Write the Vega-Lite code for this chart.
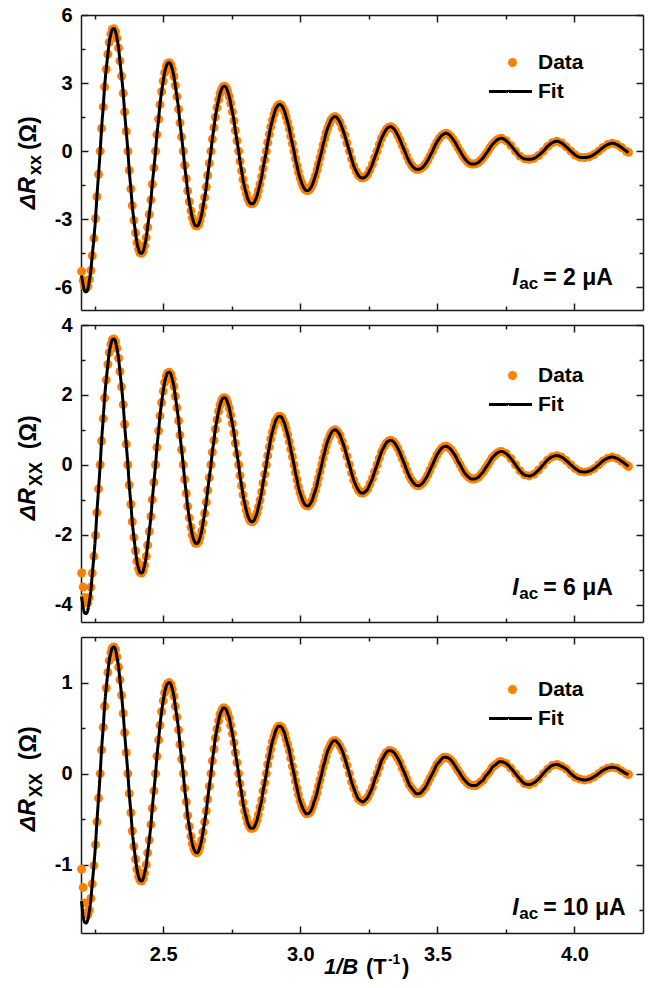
{
"$schema": "https://vega.github.io/schema/vega-lite/v6.json",
"padding": {"left": 17, "top": 5, "right": 8, "bottom": 5},
"bounds": "flush",
"spacing": 15,
"background": "white",
"config": {
 "view": {"stroke": null},
 "font": "Liberation Sans",
 "axis": {"labelFont": "Liberation Sans", "labelFontSize": 20, "labelFontWeight": "bold", "labelColor": "#000", "labelPadding": 16, "domainColor": "#1a1a1a", "domainWidth": 1.5, "tickColor": "#1a1a1a", "tickWidth": 1.5, "tickSize": -7, "grid": false, "labelFlush": false, "labelOverlap": false, "title": null},
 "axisBottom": {"labelPadding": 18},
 "legend": {"orient": "none", "padding": 0, "labelFont": "Liberation Sans", "labelFontSize": 21, "labelFontWeight": "bold", "labelColor": "#000"},
 "text": {"font": "Liberation Sans", "color": "#000"}
},
"resolve": {"scale": {"x": "independent", "y": "independent", "color": "independent", "strokeDash": "independent"}},
"datasets": {
"p1": [
{"x":2.202,"d":-5.3,"f":-5.48},{"x":2.208,"d":-5.7,"f":-5.9},{"x":2.213,"d":-5.95,"f":-6.16},
{"x":2.219,"d":-6.05,"f":-6.2},{"x":2.225,"d":-5.95,"f":-6.06},{"x":2.23,"d":-5.65,"f":-5.74},{"x":2.236,"d":-5.25,"f":-5.25},{"x":2.241,"d":-4.61,"f":-4.61},{"x":2.247,"d":-3.84,"f":-3.84},{"x":2.253,"d":-2.97,"f":-2.97},{"x":2.258,"d":-2.01,"f":-2.01},{"x":2.264,"d":-1.02,"f":-1.02},{"x":2.27,"d":0,"f":0},{"x":2.275,"d":1,"f":1},{"x":2.281,"d":1.95,"f":1.95},{"x":2.286,"d":2.83,"f":2.83},{"x":2.292,"d":3.61,"f":3.61},{"x":2.298,"d":4.27,"f":4.27},{"x":2.303,"d":4.79,"f":4.79},{"x":2.309,"d":5.16,"f":5.16},{"x":2.314,"d":5.36,"f":5.36},
{"x":2.32,"d":5.4,"f":5.4},{"x":2.326,"d":5.27,"f":5.27},{"x":2.331,"d":4.98,"f":4.98},{"x":2.337,"d":4.55,"f":4.55},{"x":2.342,"d":3.98,"f":3.98},{"x":2.348,"d":3.31,"f":3.31},{"x":2.354,"d":2.55,"f":2.55},{"x":2.359,"d":1.73,"f":1.73},{"x":2.365,"d":0.87,"f":0.87},{"x":2.371,"d":0,"f":0},{"x":2.376,"d":-0.85,"f":-0.85},{"x":2.382,"d":-1.66,"f":-1.66},{"x":2.387,"d":-2.4,"f":-2.4},{"x":2.393,"d":-3.05,"f":-3.05},{"x":2.399,"d":-3.6,"f":-3.6},{"x":2.404,"d":-4.03,"f":-4.03},{"x":2.41,"d":-4.32,"f":-4.32},{"x":2.415,"d":-4.48,"f":-4.48},
{"x":2.421,"d":-4.5,"f":-4.5},{"x":2.427,"d":-4.4,"f":-4.4},{"x":2.432,"d":-4.17,"f":-4.17},{"x":2.438,"d":-3.81,"f":-3.81},{"x":2.443,"d":-3.35,"f":-3.35},{"x":2.449,"d":-2.79,"f":-2.79},{"x":2.455,"d":-2.15,"f":-2.15},{"x":2.46,"d":-1.46,"f":-1.46},{"x":2.466,"d":-0.74,"f":-0.74},{"x":2.472,"d":0,"f":0},{"x":2.477,"d":0.73,"f":0.73},{"x":2.483,"d":1.41,"f":1.41},{"x":2.488,"d":2.05,"f":2.05},{"x":2.494,"d":2.62,"f":2.62},{"x":2.5,"d":3.09,"f":3.09},{"x":2.505,"d":3.46,"f":3.46},{"x":2.511,"d":3.73,"f":3.73},{"x":2.516,"d":3.87,"f":3.87},
{"x":2.522,"d":3.9,"f":3.9},{"x":2.528,"d":3.81,"f":3.81},{"x":2.533,"d":3.6,"f":3.6},{"x":2.539,"d":3.29,"f":3.29},{"x":2.544,"d":2.89,"f":2.89},{"x":2.55,"d":2.4,"f":2.4},{"x":2.556,"d":1.85,"f":1.85},{"x":2.561,"d":1.25,"f":1.25},{"x":2.567,"d":0.63,"f":0.63},{"x":2.573,"d":0,"f":0},{"x":2.578,"d":-0.62,"f":-0.62},{"x":2.584,"d":-1.21,"f":-1.21},{"x":2.589,"d":-1.75,"f":-1.75},{"x":2.595,"d":-2.23,"f":-2.23},{"x":2.601,"d":-2.63,"f":-2.63},{"x":2.606,"d":-2.94,"f":-2.94},{"x":2.612,"d":-3.16,"f":-3.16},{"x":2.617,"d":-3.28,"f":-3.28},
{"x":2.623,"d":-3.3,"f":-3.3},{"x":2.629,"d":-3.23,"f":-3.23},{"x":2.634,"d":-3.06,"f":-3.06},{"x":2.64,"d":-2.79,"f":-2.79},{"x":2.645,"d":-2.45,"f":-2.45},{"x":2.651,"d":-2.04,"f":-2.04},{"x":2.657,"d":-1.58,"f":-1.58},{"x":2.662,"d":-1.07,"f":-1.07},{"x":2.668,"d":-0.54,"f":-0.54},{"x":2.674,"d":0,"f":0},{"x":2.679,"d":0.53,"f":0.53},{"x":2.685,"d":1.04,"f":1.04},{"x":2.69,"d":1.5,"f":1.5},{"x":2.696,"d":1.92,"f":1.92},{"x":2.702,"d":2.27,"f":2.27},{"x":2.707,"d":2.54,"f":2.54},{"x":2.713,"d":2.73,"f":2.73},{"x":2.718,"d":2.84,"f":2.84},
{"x":2.724,"d":2.86,"f":2.86},{"x":2.73,"d":2.79,"f":2.79},{"x":2.735,"d":2.63,"f":2.63},{"x":2.741,"d":2.4,"f":2.4},{"x":2.746,"d":2.1,"f":2.1},{"x":2.752,"d":1.74,"f":1.74},{"x":2.758,"d":1.34,"f":1.34},{"x":2.763,"d":0.91,"f":0.91},{"x":2.769,"d":0.46,"f":0.46},{"x":2.775,"d":0,"f":0},{"x":2.78,"d":-0.45,"f":-0.45},{"x":2.786,"d":-0.87,"f":-0.87},{"x":2.791,"d":-1.25,"f":-1.25},{"x":2.797,"d":-1.59,"f":-1.59},{"x":2.803,"d":-1.87,"f":-1.87},{"x":2.808,"d":-2.09,"f":-2.09},{"x":2.814,"d":-2.24,"f":-2.24},{"x":2.819,"d":-2.31,"f":-2.31},
{"x":2.825,"d":-2.32,"f":-2.32},{"x":2.831,"d":-2.27,"f":-2.27},{"x":2.836,"d":-2.15,"f":-2.15},{"x":2.842,"d":-1.97,"f":-1.97},{"x":2.847,"d":-1.73,"f":-1.73},{"x":2.853,"d":-1.45,"f":-1.45},{"x":2.859,"d":-1.12,"f":-1.12},{"x":2.864,"d":-0.76,"f":-0.76},{"x":2.87,"d":-0.38,"f":-0.38},{"x":2.876,"d":0,"f":0},{"x":2.881,"d":0.38,"f":0.38},{"x":2.887,"d":0.74,"f":0.74},{"x":2.892,"d":1.07,"f":1.07},{"x":2.898,"d":1.37,"f":1.37},{"x":2.904,"d":1.62,"f":1.62},{"x":2.909,"d":1.82,"f":1.82},{"x":2.915,"d":1.96,"f":1.96},{"x":2.92,"d":2.04,"f":2.04},
{"x":2.926,"d":2.06,"f":2.06},{"x":2.932,"d":2.01,"f":2.01},{"x":2.937,"d":1.9,"f":1.9},{"x":2.943,"d":1.74,"f":1.74},{"x":2.948,"d":1.52,"f":1.52},{"x":2.954,"d":1.27,"f":1.27},{"x":2.96,"d":0.98,"f":0.98},{"x":2.965,"d":0.66,"f":0.66},{"x":2.971,"d":0.33,"f":0.33},{"x":2.977,"d":0,"f":0},{"x":2.982,"d":-0.33,"f":-0.33},{"x":2.988,"d":-0.64,"f":-0.64},{"x":2.993,"d":-0.92,"f":-0.92},{"x":2.999,"d":-1.18,"f":-1.18},{"x":3.005,"d":-1.39,"f":-1.39},{"x":3.01,"d":-1.55,"f":-1.55},{"x":3.016,"d":-1.67,"f":-1.67},{"x":3.021,"d":-1.73,"f":-1.73},
{"x":3.027,"d":-1.74,"f":-1.74},{"x":3.033,"d":-1.7,"f":-1.7},{"x":3.038,"d":-1.61,"f":-1.61},{"x":3.044,"d":-1.47,"f":-1.47},{"x":3.049,"d":-1.3,"f":-1.3},{"x":3.055,"d":-1.08,"f":-1.08},{"x":3.061,"d":-0.83,"f":-0.83},{"x":3.066,"d":-0.57,"f":-0.57},{"x":3.072,"d":-0.29,"f":-0.29},{"x":3.078,"d":0,"f":0},{"x":3.083,"d":0.28,"f":0.28},{"x":3.089,"d":0.55,"f":0.55},{"x":3.094,"d":0.8,"f":0.8},{"x":3.1,"d":1.02,"f":1.02},{"x":3.106,"d":1.2,"f":1.2},{"x":3.111,"d":1.35,"f":1.35},{"x":3.117,"d":1.45,"f":1.45},{"x":3.122,"d":1.51,"f":1.51},
{"x":3.128,"d":1.52,"f":1.52},
{"x":3.136,"d":1.44,"f":1.44},{"x":3.145,"d":1.27,"f":1.27},{"x":3.153,"d":1.01,"f":1.01},{"x":3.162,"d":0.7,"f":0.7},{"x":3.17,"d":0.36,"f":0.36},{"x":3.179,"d":0,"f":0},{"x":3.187,"d":-0.34,"f":-0.34},{"x":3.195,"d":-0.65,"f":-0.65},{"x":3.204,"d":-0.89,"f":-0.89},{"x":3.212,"d":-1.07,"f":-1.07},{"x":3.221,"d":-1.17,"f":-1.17},
{"x":3.229,"d":-1.18,"f":-1.18},{"x":3.237,"d":-1.13,"f":-1.13},{"x":3.246,"d":-1.01,"f":-1.01},{"x":3.254,"d":-0.82,"f":-0.82},{"x":3.263,"d":-0.57,"f":-0.57},{"x":3.271,"d":-0.29,"f":-0.29},{"x":3.28,"d":0,"f":0},{"x":3.288,"d":0.29,"f":0.29},{"x":3.296,"d":0.56,"f":0.56},{"x":3.305,"d":0.78,"f":0.78},{"x":3.313,"d":0.95,"f":0.95},{"x":3.322,"d":1.05,"f":1.05},
{"x":3.33,"d":1.08,"f":1.08},{"x":3.338,"d":1.02,"f":1.02},{"x":3.347,"d":0.89,"f":0.89},{"x":3.355,"d":0.71,"f":0.71},{"x":3.364,"d":0.49,"f":0.49},{"x":3.372,"d":0.25,"f":0.25},{"x":3.381,"d":0,"f":0},{"x":3.389,"d":-0.24,"f":-0.24},{"x":3.397,"d":-0.45,"f":-0.45},{"x":3.406,"d":-0.62,"f":-0.62},{"x":3.414,"d":-0.73,"f":-0.73},{"x":3.423,"d":-0.8,"f":-0.8},
{"x":3.431,"d":-0.8,"f":-0.8},{"x":3.439,"d":-0.77,"f":-0.77},{"x":3.448,"d":-0.69,"f":-0.69},{"x":3.456,"d":-0.57,"f":-0.57},{"x":3.465,"d":-0.4,"f":-0.4},{"x":3.473,"d":-0.21,"f":-0.21},{"x":3.482,"d":0,"f":0},{"x":3.49,"d":0.21,"f":0.21},{"x":3.498,"d":0.4,"f":0.4},{"x":3.507,"d":0.56,"f":0.56},{"x":3.515,"d":0.68,"f":0.68},{"x":3.524,"d":0.76,"f":0.76},
{"x":3.532,"d":0.79,"f":0.79},{"x":3.54,"d":0.75,"f":0.75},{"x":3.549,"d":0.65,"f":0.65},{"x":3.557,"d":0.52,"f":0.52},{"x":3.566,"d":0.36,"f":0.36},{"x":3.574,"d":0.18,"f":0.18},{"x":3.583,"d":0,"f":0},{"x":3.591,"d":-0.17,"f":-0.17},{"x":3.599,"d":-0.32,"f":-0.32},{"x":3.608,"d":-0.44,"f":-0.44},{"x":3.616,"d":-0.53,"f":-0.53},{"x":3.625,"d":-0.57,"f":-0.57},
{"x":3.633,"d":-0.57,"f":-0.57},{"x":3.641,"d":-0.55,"f":-0.55},{"x":3.65,"d":-0.49,"f":-0.49},{"x":3.658,"d":-0.4,"f":-0.4},{"x":3.667,"d":-0.29,"f":-0.29},{"x":3.675,"d":-0.15,"f":-0.15},{"x":3.684,"d":0,"f":0},{"x":3.692,"d":0.15,"f":0.15},{"x":3.7,"d":0.29,"f":0.29},{"x":3.709,"d":0.4,"f":0.4},{"x":3.717,"d":0.49,"f":0.49},{"x":3.726,"d":0.55,"f":0.55},
{"x":3.734,"d":0.57,"f":0.57},
{"x":3.751,"d":0.46,"f":0.46},{"x":3.768,"d":0.25,"f":0.25},{"x":3.785,"d":0,"f":0},{"x":3.801,"d":-0.22,"f":-0.22},{"x":3.818,"d":-0.34,"f":-0.34},
{"x":3.835,"d":-0.36,"f":-0.36},{"x":3.852,"d":-0.32,"f":-0.32},{"x":3.869,"d":-0.19,"f":-0.19},{"x":3.886,"d":0,"f":0},{"x":3.902,"d":0.21,"f":0.21},{"x":3.919,"d":0.37,"f":0.37},
{"x":3.936,"d":0.44,"f":0.44},{"x":3.953,"d":0.36,"f":0.36},{"x":3.97,"d":0.19,"f":0.19},{"x":3.987,"d":0,"f":0},{"x":4.003,"d":-0.17,"f":-0.17},{"x":4.02,"d":-0.27,"f":-0.27},
{"x":4.037,"d":-0.28,"f":-0.28},{"x":4.054,"d":-0.25,"f":-0.25},{"x":4.071,"d":-0.15,"f":-0.15},{"x":4.088,"d":0,"f":0},{"x":4.104,"d":0.16,"f":0.16},{"x":4.121,"d":0.29,"f":0.29},
{"x":4.138,"d":0.35,"f":0.35},{"x":4.155,"d":0.29,"f":0.29},{"x":4.172,"d":0.16,"f":0.16},{"x":4.189,"d":0,"f":0},{"x":4.197,"d":-0.05,"f":-0.05}
],
"p2": [
{"x":2.202,"d":-3.1,"f":-3.78},{"x":2.208,"d":-3.5,"f":-4.07},{"x":2.213,"d":-3.8,"f":-4.24},
{"x":2.219,"d":-3.95,"f":-4.26},{"x":2.225,"d":-3.95,"f":-4.16},{"x":2.23,"d":-3.8,"f":-3.94},{"x":2.236,"d":-3.5,"f":-3.59},{"x":2.241,"d":-3.1,"f":-3.15},{"x":2.247,"d":-2.62,"f":-2.62},{"x":2.253,"d":-2.02,"f":-2.02},{"x":2.258,"d":-1.37,"f":-1.37},{"x":2.264,"d":-0.69,"f":-0.69},{"x":2.27,"d":0,"f":0},{"x":2.275,"d":0.68,"f":0.68},{"x":2.281,"d":1.32,"f":1.32},{"x":2.286,"d":1.91,"f":1.91},{"x":2.292,"d":2.43,"f":2.43},{"x":2.298,"d":2.87,"f":2.87},{"x":2.303,"d":3.21,"f":3.21},{"x":2.309,"d":3.45,"f":3.45},{"x":2.314,"d":3.58,"f":3.58},
{"x":2.32,"d":3.6,"f":3.6},{"x":2.326,"d":3.52,"f":3.52},{"x":2.331,"d":3.33,"f":3.33},{"x":2.337,"d":3.05,"f":3.05},{"x":2.342,"d":2.67,"f":2.67},{"x":2.348,"d":2.23,"f":2.23},{"x":2.354,"d":1.72,"f":1.72},{"x":2.359,"d":1.16,"f":1.16},{"x":2.365,"d":0.59,"f":0.59},{"x":2.371,"d":0,"f":0},{"x":2.376,"d":-0.58,"f":-0.58},{"x":2.382,"d":-1.13,"f":-1.13},{"x":2.387,"d":-1.63,"f":-1.63},{"x":2.393,"d":-2.08,"f":-2.08},{"x":2.399,"d":-2.46,"f":-2.46},{"x":2.404,"d":-2.76,"f":-2.76},{"x":2.41,"d":-2.97,"f":-2.97},{"x":2.415,"d":-3.08,"f":-3.08},
{"x":2.421,"d":-3.1,"f":-3.1},{"x":2.427,"d":-3.03,"f":-3.03},{"x":2.432,"d":-2.87,"f":-2.87},{"x":2.438,"d":-2.62,"f":-2.62},{"x":2.443,"d":-2.3,"f":-2.3},{"x":2.449,"d":-1.91,"f":-1.91},{"x":2.455,"d":-1.48,"f":-1.48},{"x":2.46,"d":-1,"f":-1},{"x":2.466,"d":-0.5,"f":-0.5},{"x":2.472,"d":0,"f":0},{"x":2.477,"d":0.5,"f":0.5},{"x":2.483,"d":0.97,"f":0.97},{"x":2.488,"d":1.4,"f":1.4},{"x":2.494,"d":1.78,"f":1.78},{"x":2.5,"d":2.11,"f":2.11},{"x":2.505,"d":2.36,"f":2.36},{"x":2.511,"d":2.54,"f":2.54},{"x":2.516,"d":2.63,"f":2.63},
{"x":2.522,"d":2.65,"f":2.65},{"x":2.528,"d":2.59,"f":2.59},{"x":2.533,"d":2.45,"f":2.45},{"x":2.539,"d":2.24,"f":2.24},{"x":2.544,"d":1.96,"f":1.96},{"x":2.55,"d":1.63,"f":1.63},{"x":2.556,"d":1.26,"f":1.26},{"x":2.561,"d":0.85,"f":0.85},{"x":2.567,"d":0.43,"f":0.43},{"x":2.573,"d":0,"f":0},{"x":2.578,"d":-0.42,"f":-0.42},{"x":2.584,"d":-0.82,"f":-0.82},{"x":2.589,"d":-1.19,"f":-1.19},{"x":2.595,"d":-1.52,"f":-1.52},{"x":2.601,"d":-1.79,"f":-1.79},{"x":2.606,"d":-2.01,"f":-2.01},{"x":2.612,"d":-2.16,"f":-2.16},{"x":2.617,"d":-2.24,"f":-2.24},
{"x":2.623,"d":-2.25,"f":-2.25},{"x":2.629,"d":-2.2,"f":-2.2},{"x":2.634,"d":-2.08,"f":-2.08},{"x":2.64,"d":-1.9,"f":-1.9},{"x":2.645,"d":-1.67,"f":-1.67},{"x":2.651,"d":-1.39,"f":-1.39},{"x":2.657,"d":-1.07,"f":-1.07},{"x":2.662,"d":-0.73,"f":-0.73},{"x":2.668,"d":-0.37,"f":-0.37},{"x":2.674,"d":0,"f":0},{"x":2.679,"d":0.36,"f":0.36},{"x":2.685,"d":0.7,"f":0.7},{"x":2.69,"d":1.02,"f":1.02},{"x":2.696,"d":1.29,"f":1.29},{"x":2.702,"d":1.53,"f":1.53},{"x":2.707,"d":1.71,"f":1.71},{"x":2.713,"d":1.84,"f":1.84},{"x":2.718,"d":1.91,"f":1.91},
{"x":2.724,"d":1.92,"f":1.92},{"x":2.73,"d":1.88,"f":1.88},{"x":2.735,"d":1.77,"f":1.77},{"x":2.741,"d":1.62,"f":1.62},{"x":2.746,"d":1.42,"f":1.42},{"x":2.752,"d":1.18,"f":1.18},{"x":2.758,"d":0.91,"f":0.91},{"x":2.763,"d":0.62,"f":0.62},{"x":2.769,"d":0.31,"f":0.31},{"x":2.775,"d":0,"f":0},{"x":2.78,"d":-0.31,"f":-0.31},{"x":2.786,"d":-0.6,"f":-0.6},{"x":2.791,"d":-0.86,"f":-0.86},{"x":2.797,"d":-1.1,"f":-1.1},{"x":2.803,"d":-1.3,"f":-1.3},{"x":2.808,"d":-1.45,"f":-1.45},{"x":2.814,"d":-1.56,"f":-1.56},{"x":2.819,"d":-1.62,"f":-1.62},
{"x":2.825,"d":-1.63,"f":-1.63},{"x":2.831,"d":-1.59,"f":-1.59},{"x":2.836,"d":-1.51,"f":-1.51},{"x":2.842,"d":-1.38,"f":-1.38},{"x":2.847,"d":-1.21,"f":-1.21},{"x":2.853,"d":-1.01,"f":-1.01},{"x":2.859,"d":-0.78,"f":-0.78},{"x":2.864,"d":-0.53,"f":-0.53},{"x":2.87,"d":-0.27,"f":-0.27},{"x":2.876,"d":0,"f":0},{"x":2.881,"d":0.26,"f":0.26},{"x":2.887,"d":0.51,"f":0.51},{"x":2.892,"d":0.74,"f":0.74},{"x":2.898,"d":0.94,"f":0.94},{"x":2.904,"d":1.11,"f":1.11},{"x":2.909,"d":1.24,"f":1.24},{"x":2.915,"d":1.33,"f":1.33},{"x":2.92,"d":1.38,"f":1.38},
{"x":2.926,"d":1.39,"f":1.39},{"x":2.932,"d":1.36,"f":1.36},{"x":2.937,"d":1.28,"f":1.28},{"x":2.943,"d":1.17,"f":1.17},{"x":2.948,"d":1.03,"f":1.03},{"x":2.954,"d":0.86,"f":0.86},{"x":2.96,"d":0.66,"f":0.66},{"x":2.965,"d":0.45,"f":0.45},{"x":2.971,"d":0.23,"f":0.23},{"x":2.977,"d":0,"f":0},{"x":2.982,"d":-0.22,"f":-0.22},{"x":2.988,"d":-0.43,"f":-0.43},{"x":2.993,"d":-0.63,"f":-0.63},{"x":2.999,"d":-0.8,"f":-0.8},{"x":3.005,"d":-0.94,"f":-0.94},{"x":3.01,"d":-1.05,"f":-1.05},{"x":3.016,"d":-1.13,"f":-1.13},{"x":3.021,"d":-1.17,"f":-1.17},
{"x":3.027,"d":-1.18,"f":-1.18},{"x":3.033,"d":-1.15,"f":-1.15},{"x":3.038,"d":-1.09,"f":-1.09},{"x":3.044,"d":-1,"f":-1},{"x":3.049,"d":-0.87,"f":-0.87},{"x":3.055,"d":-0.73,"f":-0.73},{"x":3.061,"d":-0.56,"f":-0.56},{"x":3.066,"d":-0.38,"f":-0.38},{"x":3.072,"d":-0.19,"f":-0.19},{"x":3.078,"d":0,"f":0},{"x":3.083,"d":0.19,"f":0.19},{"x":3.089,"d":0.37,"f":0.37},{"x":3.094,"d":0.53,"f":0.53},{"x":3.1,"d":0.68,"f":0.68},{"x":3.106,"d":0.8,"f":0.8},{"x":3.111,"d":0.89,"f":0.89},{"x":3.117,"d":0.96,"f":0.96},{"x":3.122,"d":0.99,"f":0.99},
{"x":3.128,"d":1,"f":1},
{"x":3.136,"d":0.95,"f":0.95},{"x":3.145,"d":0.84,"f":0.84},{"x":3.153,"d":0.67,"f":0.67},{"x":3.162,"d":0.47,"f":0.47},{"x":3.17,"d":0.24,"f":0.24},{"x":3.179,"d":0,"f":0},{"x":3.187,"d":-0.23,"f":-0.23},{"x":3.195,"d":-0.44,"f":-0.44},{"x":3.204,"d":-0.61,"f":-0.61},{"x":3.212,"d":-0.73,"f":-0.73},{"x":3.221,"d":-0.8,"f":-0.8},
{"x":3.229,"d":-0.81,"f":-0.81},{"x":3.237,"d":-0.77,"f":-0.77},{"x":3.246,"d":-0.69,"f":-0.69},{"x":3.254,"d":-0.55,"f":-0.55},{"x":3.263,"d":-0.39,"f":-0.39},{"x":3.271,"d":-0.2,"f":-0.2},{"x":3.28,"d":0,"f":0},{"x":3.288,"d":0.19,"f":0.19},{"x":3.296,"d":0.37,"f":0.37},{"x":3.305,"d":0.51,"f":0.51},{"x":3.313,"d":0.62,"f":0.62},{"x":3.322,"d":0.68,"f":0.68},
{"x":3.33,"d":0.7,"f":0.7},{"x":3.338,"d":0.67,"f":0.67},{"x":3.347,"d":0.59,"f":0.59},{"x":3.355,"d":0.48,"f":0.48},{"x":3.364,"d":0.33,"f":0.33},{"x":3.372,"d":0.17,"f":0.17},{"x":3.381,"d":0,"f":0},{"x":3.389,"d":-0.17,"f":-0.17},{"x":3.397,"d":-0.32,"f":-0.32},{"x":3.406,"d":-0.44,"f":-0.44},{"x":3.414,"d":-0.53,"f":-0.53},{"x":3.423,"d":-0.59,"f":-0.59},
{"x":3.431,"d":-0.6,"f":-0.6},{"x":3.439,"d":-0.57,"f":-0.57},{"x":3.448,"d":-0.51,"f":-0.51},{"x":3.456,"d":-0.41,"f":-0.41},{"x":3.465,"d":-0.29,"f":-0.29},{"x":3.473,"d":-0.15,"f":-0.15},{"x":3.482,"d":0,"f":0},{"x":3.49,"d":0.14,"f":0.14},{"x":3.498,"d":0.28,"f":0.28},{"x":3.507,"d":0.39,"f":0.39},{"x":3.515,"d":0.47,"f":0.47},{"x":3.524,"d":0.52,"f":0.52},
{"x":3.532,"d":0.53,"f":0.53},{"x":3.54,"d":0.5,"f":0.5},{"x":3.549,"d":0.44,"f":0.44},{"x":3.557,"d":0.35,"f":0.35},{"x":3.566,"d":0.25,"f":0.25},{"x":3.574,"d":0.12,"f":0.12},{"x":3.583,"d":0,"f":0},{"x":3.591,"d":-0.12,"f":-0.12},{"x":3.599,"d":-0.23,"f":-0.23},{"x":3.608,"d":-0.31,"f":-0.31},{"x":3.616,"d":-0.37,"f":-0.37},{"x":3.625,"d":-0.41,"f":-0.41},
{"x":3.633,"d":-0.41,"f":-0.41},{"x":3.641,"d":-0.39,"f":-0.39},{"x":3.65,"d":-0.35,"f":-0.35},{"x":3.658,"d":-0.28,"f":-0.28},{"x":3.667,"d":-0.2,"f":-0.2},{"x":3.675,"d":-0.1,"f":-0.1},{"x":3.684,"d":0,"f":0},{"x":3.692,"d":0.1,"f":0.1},{"x":3.7,"d":0.2,"f":0.2},{"x":3.709,"d":0.27,"f":0.27},{"x":3.717,"d":0.33,"f":0.33},{"x":3.726,"d":0.37,"f":0.37},
{"x":3.734,"d":0.38,"f":0.38},
{"x":3.751,"d":0.32,"f":0.32},{"x":3.768,"d":0.18,"f":0.18},{"x":3.785,"d":0,"f":0},{"x":3.801,"d":-0.17,"f":-0.17},{"x":3.818,"d":-0.29,"f":-0.29},
{"x":3.835,"d":-0.32,"f":-0.32},{"x":3.852,"d":-0.27,"f":-0.27},{"x":3.869,"d":-0.15,"f":-0.15},{"x":3.886,"d":0,"f":0},{"x":3.902,"d":0.14,"f":0.14},{"x":3.919,"d":0.23,"f":0.23},
{"x":3.936,"d":0.26,"f":0.26},{"x":3.953,"d":0.22,"f":0.22},{"x":3.97,"d":0.12,"f":0.12},{"x":3.987,"d":0,"f":0},{"x":4.003,"d":-0.11,"f":-0.11},{"x":4.02,"d":-0.19,"f":-0.19},
{"x":4.037,"d":-0.21,"f":-0.21},{"x":4.054,"d":-0.18,"f":-0.18},{"x":4.071,"d":-0.11,"f":-0.11},{"x":4.088,"d":0,"f":0},{"x":4.104,"d":0.11,"f":0.11},{"x":4.121,"d":0.19,"f":0.19},
{"x":4.138,"d":0.22,"f":0.22},{"x":4.155,"d":0.18,"f":0.18},{"x":4.172,"d":0.1,"f":0.1},{"x":4.189,"d":0,"f":0},{"x":4.197,"d":-0.05,"f":-0.05}
],
"p3": [
{"x":2.202,"d":-1.05,"f":-1.4},{"x":2.208,"d":-1.25,"f":-1.57},{"x":2.213,"d":-1.42,"f":-1.63},
{"x":2.219,"d":-1.53,"f":-1.64},{"x":2.225,"d":-1.55,"f":-1.6},{"x":2.23,"d":-1.5,"f":-1.52},{"x":2.236,"d":-1.37,"f":-1.38},{"x":2.241,"d":-1.21,"f":-1.21},{"x":2.247,"d":-1.01,"f":-1.01},{"x":2.253,"d":-0.78,"f":-0.78},{"x":2.258,"d":-0.53,"f":-0.53},{"x":2.264,"d":-0.27,"f":-0.27},{"x":2.27,"d":0,"f":0},{"x":2.275,"d":0.26,"f":0.26},{"x":2.281,"d":0.51,"f":0.51},{"x":2.286,"d":0.74,"f":0.74},{"x":2.292,"d":0.94,"f":0.94},{"x":2.298,"d":1.11,"f":1.11},{"x":2.303,"d":1.24,"f":1.24},{"x":2.309,"d":1.33,"f":1.33},{"x":2.314,"d":1.38,"f":1.38},
{"x":2.32,"d":1.39,"f":1.39},{"x":2.326,"d":1.36,"f":1.36},{"x":2.331,"d":1.28,"f":1.28},{"x":2.337,"d":1.17,"f":1.17},{"x":2.342,"d":1.03,"f":1.03},{"x":2.348,"d":0.86,"f":0.86},{"x":2.354,"d":0.66,"f":0.66},{"x":2.359,"d":0.45,"f":0.45},{"x":2.365,"d":0.23,"f":0.23},{"x":2.371,"d":0,"f":0},{"x":2.376,"d":-0.22,"f":-0.22},{"x":2.382,"d":-0.43,"f":-0.43},{"x":2.387,"d":-0.63,"f":-0.63},{"x":2.393,"d":-0.8,"f":-0.8},{"x":2.399,"d":-0.94,"f":-0.94},{"x":2.404,"d":-1.05,"f":-1.05},{"x":2.41,"d":-1.13,"f":-1.13},{"x":2.415,"d":-1.17,"f":-1.17},
{"x":2.421,"d":-1.18,"f":-1.18},{"x":2.427,"d":-1.15,"f":-1.15},{"x":2.432,"d":-1.09,"f":-1.09},{"x":2.438,"d":-1,"f":-1},{"x":2.443,"d":-0.87,"f":-0.87},{"x":2.449,"d":-0.73,"f":-0.73},{"x":2.455,"d":-0.56,"f":-0.56},{"x":2.46,"d":-0.38,"f":-0.38},{"x":2.466,"d":-0.19,"f":-0.19},{"x":2.472,"d":0,"f":0},{"x":2.477,"d":0.19,"f":0.19},{"x":2.483,"d":0.37,"f":0.37},{"x":2.488,"d":0.53,"f":0.53},{"x":2.494,"d":0.68,"f":0.68},{"x":2.5,"d":0.8,"f":0.8},{"x":2.505,"d":0.89,"f":0.89},{"x":2.511,"d":0.96,"f":0.96},{"x":2.516,"d":0.99,"f":0.99},
{"x":2.522,"d":1,"f":1},{"x":2.528,"d":0.98,"f":0.98},{"x":2.533,"d":0.93,"f":0.93},{"x":2.539,"d":0.85,"f":0.85},{"x":2.544,"d":0.74,"f":0.74},{"x":2.55,"d":0.62,"f":0.62},{"x":2.556,"d":0.48,"f":0.48},{"x":2.561,"d":0.32,"f":0.32},{"x":2.567,"d":0.16,"f":0.16},{"x":2.573,"d":0,"f":0},{"x":2.578,"d":-0.16,"f":-0.16},{"x":2.584,"d":-0.31,"f":-0.31},{"x":2.589,"d":-0.46,"f":-0.46},{"x":2.595,"d":-0.58,"f":-0.58},{"x":2.601,"d":-0.69,"f":-0.69},{"x":2.606,"d":-0.77,"f":-0.77},{"x":2.612,"d":-0.83,"f":-0.83},{"x":2.617,"d":-0.86,"f":-0.86},
{"x":2.623,"d":-0.87,"f":-0.87},{"x":2.629,"d":-0.85,"f":-0.85},{"x":2.634,"d":-0.8,"f":-0.8},{"x":2.64,"d":-0.73,"f":-0.73},{"x":2.645,"d":-0.64,"f":-0.64},{"x":2.651,"d":-0.53,"f":-0.53},{"x":2.657,"d":-0.41,"f":-0.41},{"x":2.662,"d":-0.28,"f":-0.28},{"x":2.668,"d":-0.14,"f":-0.14},{"x":2.674,"d":0,"f":0},{"x":2.679,"d":0.14,"f":0.14},{"x":2.685,"d":0.27,"f":0.27},{"x":2.69,"d":0.39,"f":0.39},{"x":2.696,"d":0.49,"f":0.49},{"x":2.702,"d":0.58,"f":0.58},{"x":2.707,"d":0.65,"f":0.65},{"x":2.713,"d":0.69,"f":0.69},{"x":2.718,"d":0.72,"f":0.72},
{"x":2.724,"d":0.72,"f":0.72},{"x":2.73,"d":0.7,"f":0.7},{"x":2.735,"d":0.66,"f":0.66},{"x":2.741,"d":0.61,"f":0.61},{"x":2.746,"d":0.53,"f":0.53},{"x":2.752,"d":0.44,"f":0.44},{"x":2.758,"d":0.34,"f":0.34},{"x":2.763,"d":0.23,"f":0.23},{"x":2.769,"d":0.12,"f":0.12},{"x":2.775,"d":0,"f":0},{"x":2.78,"d":-0.11,"f":-0.11},{"x":2.786,"d":-0.22,"f":-0.22},{"x":2.791,"d":-0.32,"f":-0.32},{"x":2.797,"d":-0.41,"f":-0.41},{"x":2.803,"d":-0.48,"f":-0.48},{"x":2.808,"d":-0.54,"f":-0.54},{"x":2.814,"d":-0.58,"f":-0.58},{"x":2.819,"d":-0.6,"f":-0.6},
{"x":2.825,"d":-0.6,"f":-0.6},{"x":2.831,"d":-0.59,"f":-0.59},{"x":2.836,"d":-0.56,"f":-0.56},{"x":2.842,"d":-0.51,"f":-0.51},{"x":2.847,"d":-0.45,"f":-0.45},{"x":2.853,"d":-0.37,"f":-0.37},{"x":2.859,"d":-0.29,"f":-0.29},{"x":2.864,"d":-0.19,"f":-0.19},{"x":2.87,"d":-0.1,"f":-0.1},{"x":2.876,"d":0,"f":0},{"x":2.881,"d":0.1,"f":0.1},{"x":2.887,"d":0.19,"f":0.19},{"x":2.892,"d":0.27,"f":0.27},{"x":2.898,"d":0.35,"f":0.35},{"x":2.904,"d":0.41,"f":0.41},{"x":2.909,"d":0.46,"f":0.46},{"x":2.915,"d":0.5,"f":0.5},{"x":2.92,"d":0.52,"f":0.52},
{"x":2.926,"d":0.52,"f":0.52},{"x":2.932,"d":0.51,"f":0.51},{"x":2.937,"d":0.48,"f":0.48},{"x":2.943,"d":0.44,"f":0.44},{"x":2.948,"d":0.38,"f":0.38},{"x":2.954,"d":0.32,"f":0.32},{"x":2.96,"d":0.25,"f":0.25},{"x":2.965,"d":0.17,"f":0.17},{"x":2.971,"d":0.08,"f":0.08},{"x":2.977,"d":0,"f":0},{"x":2.982,"d":-0.08,"f":-0.08},{"x":2.988,"d":-0.16,"f":-0.16},{"x":2.993,"d":-0.23,"f":-0.23},{"x":2.999,"d":-0.3,"f":-0.3},{"x":3.005,"d":-0.35,"f":-0.35},{"x":3.01,"d":-0.39,"f":-0.39},{"x":3.016,"d":-0.42,"f":-0.42},{"x":3.021,"d":-0.44,"f":-0.44},
{"x":3.027,"d":-0.44,"f":-0.44},{"x":3.033,"d":-0.43,"f":-0.43},{"x":3.038,"d":-0.41,"f":-0.41},{"x":3.044,"d":-0.37,"f":-0.37},{"x":3.049,"d":-0.32,"f":-0.32},{"x":3.055,"d":-0.27,"f":-0.27},{"x":3.061,"d":-0.21,"f":-0.21},{"x":3.066,"d":-0.14,"f":-0.14},{"x":3.072,"d":-0.07,"f":-0.07},{"x":3.078,"d":0,"f":0},{"x":3.083,"d":0.07,"f":0.07},{"x":3.089,"d":0.13,"f":0.13},{"x":3.094,"d":0.19,"f":0.19},{"x":3.1,"d":0.25,"f":0.25},{"x":3.106,"d":0.29,"f":0.29},{"x":3.111,"d":0.32,"f":0.32},{"x":3.117,"d":0.35,"f":0.35},{"x":3.122,"d":0.36,"f":0.36},
{"x":3.128,"d":0.36,"f":0.36},
{"x":3.136,"d":0.34,"f":0.34},{"x":3.145,"d":0.3,"f":0.3},{"x":3.153,"d":0.25,"f":0.25},{"x":3.162,"d":0.17,"f":0.17},{"x":3.17,"d":0.09,"f":0.09},{"x":3.179,"d":0,"f":0},{"x":3.187,"d":-0.09,"f":-0.09},{"x":3.195,"d":-0.16,"f":-0.16},{"x":3.204,"d":-0.23,"f":-0.23},{"x":3.212,"d":-0.28,"f":-0.28},{"x":3.221,"d":-0.3,"f":-0.3},
{"x":3.229,"d":-0.31,"f":-0.31},{"x":3.237,"d":-0.29,"f":-0.29},{"x":3.246,"d":-0.26,"f":-0.26},{"x":3.254,"d":-0.21,"f":-0.21},{"x":3.263,"d":-0.15,"f":-0.15},{"x":3.271,"d":-0.07,"f":-0.07},{"x":3.28,"d":0,"f":0},{"x":3.288,"d":0.07,"f":0.07},{"x":3.296,"d":0.14,"f":0.14},{"x":3.305,"d":0.19,"f":0.19},{"x":3.313,"d":0.23,"f":0.23},{"x":3.322,"d":0.25,"f":0.25},
{"x":3.33,"d":0.25,"f":0.25},{"x":3.338,"d":0.24,"f":0.24},{"x":3.347,"d":0.21,"f":0.21},{"x":3.355,"d":0.17,"f":0.17},{"x":3.364,"d":0.12,"f":0.12},{"x":3.372,"d":0.06,"f":0.06},{"x":3.381,"d":0,"f":0},{"x":3.389,"d":-0.06,"f":-0.06},{"x":3.397,"d":-0.12,"f":-0.12},{"x":3.406,"d":-0.16,"f":-0.16},{"x":3.414,"d":-0.19,"f":-0.19},{"x":3.423,"d":-0.22,"f":-0.22},
{"x":3.431,"d":-0.22,"f":-0.22},{"x":3.439,"d":-0.21,"f":-0.21},{"x":3.448,"d":-0.18,"f":-0.18},{"x":3.456,"d":-0.15,"f":-0.15},{"x":3.465,"d":-0.1,"f":-0.1},{"x":3.473,"d":-0.05,"f":-0.05},{"x":3.482,"d":0,"f":0},{"x":3.49,"d":0.05,"f":0.05},{"x":3.498,"d":0.1,"f":0.1},{"x":3.507,"d":0.13,"f":0.13},{"x":3.515,"d":0.16,"f":0.16},{"x":3.524,"d":0.18,"f":0.18},
{"x":3.532,"d":0.18,"f":0.18},{"x":3.54,"d":0.17,"f":0.17},{"x":3.549,"d":0.15,"f":0.15},{"x":3.557,"d":0.12,"f":0.12},{"x":3.566,"d":0.08,"f":0.08},{"x":3.574,"d":0.04,"f":0.04},{"x":3.583,"d":0,"f":0},{"x":3.591,"d":-0.04,"f":-0.04},{"x":3.599,"d":-0.07,"f":-0.07},{"x":3.608,"d":-0.1,"f":-0.1},{"x":3.616,"d":-0.12,"f":-0.12},{"x":3.625,"d":-0.13,"f":-0.13},
{"x":3.633,"d":-0.13,"f":-0.13},{"x":3.641,"d":-0.13,"f":-0.13},{"x":3.65,"d":-0.11,"f":-0.11},{"x":3.658,"d":-0.09,"f":-0.09},{"x":3.667,"d":-0.07,"f":-0.07},{"x":3.675,"d":-0.03,"f":-0.03},{"x":3.684,"d":0,"f":0},{"x":3.692,"d":0.03,"f":0.03},{"x":3.7,"d":0.07,"f":0.07},{"x":3.709,"d":0.09,"f":0.09},{"x":3.717,"d":0.11,"f":0.11},{"x":3.726,"d":0.13,"f":0.13},
{"x":3.734,"d":0.13,"f":0.13},
{"x":3.751,"d":0.11,"f":0.11},{"x":3.768,"d":0.06,"f":0.06},{"x":3.785,"d":0,"f":0},{"x":3.801,"d":-0.06,"f":-0.06},{"x":3.818,"d":-0.11,"f":-0.11},
{"x":3.835,"d":-0.12,"f":-0.12},{"x":3.852,"d":-0.1,"f":-0.1},{"x":3.869,"d":-0.06,"f":-0.06},{"x":3.886,"d":0,"f":0},{"x":3.902,"d":0.05,"f":0.05},{"x":3.919,"d":0.09,"f":0.09},
{"x":3.936,"d":0.1,"f":0.1},{"x":3.953,"d":0.08,"f":0.08},{"x":3.97,"d":0.05,"f":0.05},{"x":3.987,"d":0,"f":0},{"x":4.003,"d":-0.04,"f":-0.04},{"x":4.02,"d":-0.06,"f":-0.06},
{"x":4.037,"d":-0.07,"f":-0.07},{"x":4.054,"d":-0.06,"f":-0.06},{"x":4.071,"d":-0.035,"f":-0.035},{"x":4.088,"d":0,"f":0},{"x":4.104,"d":0.035,"f":0.035},{"x":4.121,"d":0.06,"f":0.06},
{"x":4.138,"d":0.07,"f":0.07},{"x":4.155,"d":0.06,"f":0.06},{"x":4.172,"d":0.03,"f":0.03},{"x":4.189,"d":0,"f":0},{"x":4.197,"d":-0.01,"f":-0.01}
]
},
"vconcat": [
{
 "width": 562, "height": 295,
 "data": {"name": "p1"},
 "resolve": {"axis": {"x": "independent", "y": "independent"}},
 "layer": [
  {"mark": {"type": "point", "filled": true, "size": 80, "opacity": 1, "strokeWidth": 0},
   "encoding": {
    "x": {"field": "x", "type": "quantitative", "scale": {"domain": [2.2, 4.25], "nice": false, "zero": false},
      "axis": {"orient": "bottom", "values": [2.5,3,3.5,4], "labels": false}},
    "y": {"field": "d", "type": "quantitative", "scale": {"domain": [-7, 6], "nice": false, "zero": false},
      "axis": {"orient": "left", "values": [-6,-3,0,3,6], "labelExpr": "toString(datum.value)"}},
    "color": {"datum": "Data", "scale": {"domain": ["Data"], "range": ["#FF8000"]},
      "legend": {"title": null, "legendX": 421, "legendY": 37, "symbolType": "circle", "symbolSize": 80, "symbolStrokeWidth": 0, "labelOffset": 15}}
   }},
  {"mark": {"type": "line", "strokeWidth": 3, "interpolate": "monotone", "color": "#000"},
   "encoding": {
    "x": {"field": "x", "type": "quantitative", "axis": {"orient": "top", "values": [2.5,3,3.5,4], "labels": false}},
    "y": {"field": "f", "type": "quantitative", "axis": {"orient": "right", "values": [-6,-3,0,3,6], "labels": false}},
    "strokeDash": {"datum": "Fit", "scale": {"domain": ["Fit"], "range": [[1, 0]]},
      "legend": {"title": null, "legendX": 406, "legendY": 53, "symbolType": "stroke", "symbolSize": 1850, "symbolStrokeWidth": 3, "symbolStrokeColor": "#000", "labelOffset": 4}}
   }},
  {"data": {"values": [{}]}, "mark": {"type": "text", "text": "I", "fontSize": 23, "fontWeight": "bold", "fontStyle": "italic", "align": "left", "baseline": "alphabetic"},
   "encoding": {"x": {"datum": 3.773, "type": "quantitative", "axis": {"orient": "bottom", "values": [2.25,2.75,3.25,3.75], "labels": false, "domain": false, "tickSize": -4}},
                "y": {"datum": -5.92, "type": "quantitative", "axis": {"orient": "left", "values": [-4.5,-1.5,1.5,4.5], "labels": false, "domain": false, "tickSize": -4}}}},
  {"data": {"values": [{}]}, "mark": {"type": "text", "text": "ac", "fontSize": 17, "fontWeight": "bold", "align": "left", "baseline": "alphabetic", "dx": 7, "dy": 4},
   "encoding": {"x": {"datum": 3.773, "type": "quantitative", "axis": {"orient": "top", "values": [2.25,2.75,3.25,3.75], "labels": false, "domain": false, "tickSize": -4}},
                "y": {"datum": -5.92, "type": "quantitative", "axis": {"orient": "right", "values": [-4.5,-1.5,1.5,4.5], "labels": false, "domain": false, "tickSize": -4}}}},
  {"data": {"values": [{}]}, "mark": {"type": "text", "text": "= 2 μA", "fontSize": 23, "fontWeight": "bold", "align": "left", "baseline": "alphabetic", "dx": 31},
   "encoding": {"x": {"datum": 3.773, "type": "quantitative", "axis": null}, "y": {"datum": -5.92, "type": "quantitative", "axis": null}}},
  {"data": {"values": [{}]}, "mark": {"type": "text", "text": "ΔR", "fontSize": 23, "fontWeight": "bold", "fontStyle": "italic", "angle": 270, "align": "right", "baseline": "middle", "dx": -1, "dy": -53},
   "encoding": {"x": {"datum": 2.2, "type": "quantitative", "axis": null}, "y": {"datum": -1.1, "type": "quantitative", "axis": null}}},
  {"data": {"values": [{}]}, "mark": {"type": "text", "text": "xx", "fontSize": 18, "fontWeight": "bold", "angle": 270, "align": "left", "baseline": "middle", "dx": 1, "dy": -45},
   "encoding": {"x": {"datum": 2.2, "type": "quantitative", "axis": null}, "y": {"datum": -1.1, "type": "quantitative", "axis": null}}},
  {"data": {"values": [{}]}, "mark": {"type": "text", "text": "(Ω)", "fontSize": 23, "fontWeight": "bold", "angle": 270, "align": "left", "baseline": "middle", "dx": 26, "dy": -52},
   "encoding": {"x": {"datum": 2.2, "type": "quantitative", "axis": null}, "y": {"datum": -1.1, "type": "quantitative", "axis": null}}}
 ]
},
{
 "width": 562, "height": 297,
 "data": {"name": "p2"},
 "resolve": {"axis": {"x": "independent", "y": "independent"}},
 "layer": [
  {"mark": {"type": "point", "filled": true, "size": 80, "opacity": 1, "strokeWidth": 0},
   "encoding": {
    "x": {"field": "x", "type": "quantitative", "scale": {"domain": [2.2, 4.25], "nice": false, "zero": false},
      "axis": {"orient": "bottom", "values": [2.5,3,3.5,4], "labels": false}},
    "y": {"field": "d", "type": "quantitative", "scale": {"domain": [-4.5, 4], "nice": false, "zero": false},
      "axis": {"orient": "left", "values": [-4,-2,0,2,4], "labelExpr": "toString(datum.value)"}},
    "color": {"datum": "Data", "scale": {"domain": ["Data"], "range": ["#FF8000"]},
      "legend": {"title": null, "legendX": 421, "legendY": 40, "symbolType": "circle", "symbolSize": 80, "symbolStrokeWidth": 0, "labelOffset": 15}}
   }},
  {"mark": {"type": "line", "strokeWidth": 3, "interpolate": "monotone", "color": "#000"},
   "encoding": {
    "x": {"field": "x", "type": "quantitative", "axis": {"orient": "top", "values": [2.5,3,3.5,4], "labels": false}},
    "y": {"field": "f", "type": "quantitative", "axis": {"orient": "right", "values": [-4,-2,0,2,4], "labels": false}},
    "strokeDash": {"datum": "Fit", "scale": {"domain": ["Fit"], "range": [[1, 0]]},
      "legend": {"title": null, "legendX": 406, "legendY": 56, "symbolType": "stroke", "symbolSize": 1850, "symbolStrokeWidth": 3, "symbolStrokeColor": "#000", "labelOffset": 4}}
   }},
  {"data": {"values": [{}]}, "mark": {"type": "text", "text": "I", "fontSize": 23, "fontWeight": "bold", "fontStyle": "italic", "align": "left", "baseline": "alphabetic"},
   "encoding": {"x": {"datum": 3.773, "type": "quantitative", "axis": {"orient": "bottom", "values": [2.25,2.75,3.25,3.75], "labels": false, "domain": false, "tickSize": -4}},
                "y": {"datum": -3.74, "type": "quantitative", "axis": {"orient": "left", "values": [-3,-1,1,3], "labels": false, "domain": false, "tickSize": -4}}}},
  {"data": {"values": [{}]}, "mark": {"type": "text", "text": "ac", "fontSize": 17, "fontWeight": "bold", "align": "left", "baseline": "alphabetic", "dx": 7, "dy": 4},
   "encoding": {"x": {"datum": 3.773, "type": "quantitative", "axis": {"orient": "top", "values": [2.25,2.75,3.25,3.75], "labels": false, "domain": false, "tickSize": -4}},
                "y": {"datum": -3.74, "type": "quantitative", "axis": {"orient": "right", "values": [-3,-1,1,3], "labels": false, "domain": false, "tickSize": -4}}}},
  {"data": {"values": [{}]}, "mark": {"type": "text", "text": "= 6 μA", "fontSize": 23, "fontWeight": "bold", "align": "left", "baseline": "alphabetic", "dx": 31},
   "encoding": {"x": {"datum": 3.773, "type": "quantitative", "axis": null}, "y": {"datum": -3.74, "type": "quantitative", "axis": null}}},
  {"data": {"values": [{}]}, "mark": {"type": "text", "text": "ΔR", "fontSize": 23, "fontWeight": "bold", "fontStyle": "italic", "angle": 270, "align": "right", "baseline": "middle", "dx": -1, "dy": -53},
   "encoding": {"x": {"datum": 2.2, "type": "quantitative", "axis": null}, "y": {"datum": -0.64, "type": "quantitative", "axis": null}}},
  {"data": {"values": [{}]}, "mark": {"type": "text", "text": "XX", "fontSize": 18, "fontWeight": "bold", "angle": 270, "align": "left", "baseline": "middle", "dx": 1, "dy": -44},
   "encoding": {"x": {"datum": 2.2, "type": "quantitative", "axis": null}, "y": {"datum": -0.64, "type": "quantitative", "axis": null}}},
  {"data": {"values": [{}]}, "mark": {"type": "text", "text": "(Ω)", "fontSize": 23, "fontWeight": "bold", "angle": 270, "align": "left", "baseline": "middle", "dx": 38, "dy": -52},
   "encoding": {"x": {"datum": 2.2, "type": "quantitative", "axis": null}, "y": {"datum": -0.64, "type": "quantitative", "axis": null}}}
 ]
},
{
 "width": 562, "height": 296,
 "data": {"name": "p3"},
 "resolve": {"axis": {"x": "independent", "y": "independent"}},
 "layer": [
  {"mark": {"type": "point", "filled": true, "size": 80, "opacity": 1, "strokeWidth": 0},
   "encoding": {
    "x": {"field": "x", "type": "quantitative", "scale": {"domain": [2.2, 4.25], "nice": false, "zero": false},
      "axis": {"orient": "bottom", "values": [2.5,3,3.5,4], "format": ".1f"}},
    "y": {"field": "d", "type": "quantitative", "scale": {"domain": [-1.75, 1.5], "nice": false, "zero": false},
      "axis": {"orient": "left", "values": [-1,0,1], "labelExpr": "toString(datum.value)"}},
    "color": {"datum": "Data", "scale": {"domain": ["Data"], "range": ["#FF8000"]},
      "legend": {"title": null, "legendX": 421, "legendY": 42, "symbolType": "circle", "symbolSize": 80, "symbolStrokeWidth": 0, "labelOffset": 15}}
   }},
  {"mark": {"type": "line", "strokeWidth": 3, "interpolate": "monotone", "color": "#000"},
   "encoding": {
    "x": {"field": "x", "type": "quantitative", "axis": {"orient": "top", "values": [2.5,3,3.5,4], "labels": false}},
    "y": {"field": "f", "type": "quantitative", "axis": {"orient": "right", "values": [-1,0,1], "labels": false}},
    "strokeDash": {"datum": "Fit", "scale": {"domain": ["Fit"], "range": [[1, 0]]},
      "legend": {"title": null, "legendX": 406, "legendY": 58, "symbolType": "stroke", "symbolSize": 1850, "symbolStrokeWidth": 3, "symbolStrokeColor": "#000", "labelOffset": 4}}
   }},
  {"data": {"values": [{}]}, "mark": {"type": "text", "text": "I", "fontSize": 23, "fontWeight": "bold", "fontStyle": "italic", "align": "left", "baseline": "alphabetic"},
   "encoding": {"x": {"datum": 3.773, "type": "quantitative", "axis": {"orient": "bottom", "values": [2.25,2.75,3.25,3.75], "labels": false, "domain": false, "tickSize": -4}},
                "y": {"datum": -1.55, "type": "quantitative", "axis": {"orient": "left", "values": [-1.5,-0.5,0.5], "labels": false, "domain": false, "tickSize": -4}}}},
  {"data": {"values": [{}]}, "mark": {"type": "text", "text": "ac", "fontSize": 17, "fontWeight": "bold", "align": "left", "baseline": "alphabetic", "dx": 7, "dy": 4},
   "encoding": {"x": {"datum": 3.773, "type": "quantitative", "axis": {"orient": "top", "values": [2.25,2.75,3.25,3.75], "labels": false, "domain": false, "tickSize": -4}},
                "y": {"datum": -1.55, "type": "quantitative", "axis": {"orient": "right", "values": [-1.5,-0.5,0.5], "labels": false, "domain": false, "tickSize": -4}}}},
  {"data": {"values": [{}]}, "mark": {"type": "text", "text": "= 10 μA", "fontSize": 23, "fontWeight": "bold", "align": "left", "baseline": "alphabetic", "dx": 31},
   "encoding": {"x": {"datum": 3.773, "type": "quantitative", "axis": null}, "y": {"datum": -1.55, "type": "quantitative", "axis": null}}},
  {"data": {"values": [{}]}, "mark": {"type": "text", "text": "ΔR", "fontSize": 23, "fontWeight": "bold", "fontStyle": "italic", "angle": 270, "align": "right", "baseline": "middle", "dx": -1, "dy": -53},
   "encoding": {"x": {"datum": 2.2, "type": "quantitative", "axis": null}, "y": {"datum": -0.27, "type": "quantitative", "axis": null}}},
  {"data": {"values": [{}]}, "mark": {"type": "text", "text": "XX", "fontSize": 18, "fontWeight": "bold", "angle": 270, "align": "left", "baseline": "middle", "dx": 1, "dy": -44},
   "encoding": {"x": {"datum": 2.2, "type": "quantitative", "axis": null}, "y": {"datum": -0.27, "type": "quantitative", "axis": null}}},
  {"data": {"values": [{}]}, "mark": {"type": "text", "text": "(Ω)", "fontSize": 23, "fontWeight": "bold", "angle": 270, "align": "left", "baseline": "middle", "dx": 38, "dy": -52},
   "encoding": {"x": {"datum": 2.2, "type": "quantitative", "axis": null}, "y": {"datum": -0.27, "type": "quantitative", "axis": null}}},
  {"data": {"values": [{}]}, "mark": {"type": "text", "text": "1/B", "fontSize": 22, "fontWeight": "bold", "fontStyle": "italic", "align": "left", "baseline": "alphabetic", "dy": 41},
   "encoding": {"x": {"datum": 3.086, "type": "quantitative", "axis": null}, "y": {"datum": -1.75, "type": "quantitative", "axis": null}}},
  {"data": {"values": [{}]}, "mark": {"type": "text", "text": "(T", "fontSize": 22, "fontWeight": "bold", "align": "left", "baseline": "alphabetic", "dx": 42, "dy": 41},
   "encoding": {"x": {"datum": 3.086, "type": "quantitative", "axis": null}, "y": {"datum": -1.75, "type": "quantitative", "axis": null}}},
  {"data": {"values": [{}]}, "mark": {"type": "text", "text": "-1", "fontSize": 14, "fontWeight": "bold", "align": "left", "baseline": "alphabetic", "dx": 64, "dy": 31},
   "encoding": {"x": {"datum": 3.086, "type": "quantitative", "axis": null}, "y": {"datum": -1.75, "type": "quantitative", "axis": null}}},
  {"data": {"values": [{}]}, "mark": {"type": "text", "text": ")", "fontSize": 22, "fontWeight": "bold", "align": "left", "baseline": "alphabetic", "dx": 78, "dy": 41},
   "encoding": {"x": {"datum": 3.086, "type": "quantitative", "axis": null}, "y": {"datum": -1.75, "type": "quantitative", "axis": null}}}
 ]
}
]
}
